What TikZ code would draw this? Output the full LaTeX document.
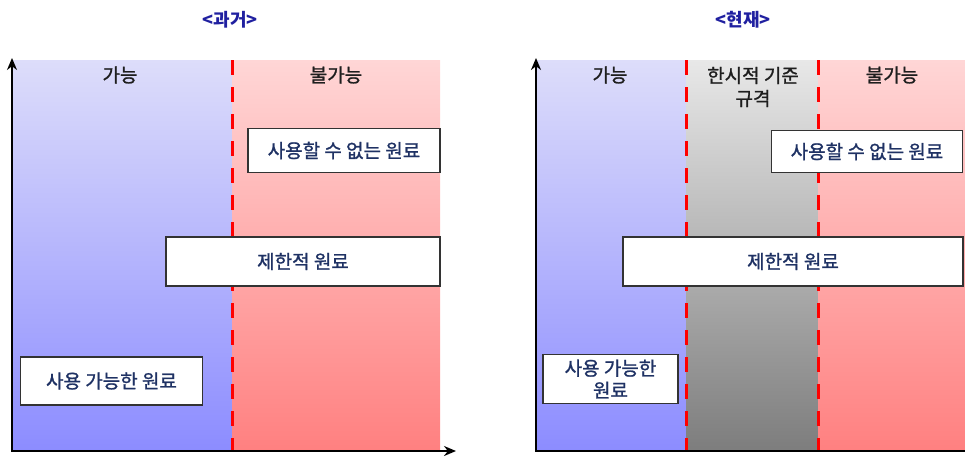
\documentclass[tikz,border=0pt]{standalone}
\usepackage{fontspec}
\setmainfont{Noto Sans CJK KR}
\newfontfamily\heavyfont[FakeBold=1.2]{Noto Sans CJK KR}
\usetikzlibrary{arrows.meta}
\definecolor{bluetop}{RGB}{221,221,250}
\definecolor{bluebot}{RGB}{140,140,255}
\definecolor{redtop}{RGB}{255,214,214}
\definecolor{redbot}{RGB}{255,128,128}
\definecolor{graytop}{RGB}{232,232,232}
\definecolor{graybot}{RGB}{125,125,125}
\definecolor{boxtext}{RGB}{31,50,100}
\definecolor{titleblue}{RGB}{32,32,160}
\definecolor{labeltext}{RGB}{30,30,30}
\definecolor{dashred}{RGB}{255,0,0}
\begin{document}
\begin{tikzpicture}[x=1pt,y=-1pt,
  itembox/.style={draw=black!80, line width=1.3pt, fill=white, inner sep=0pt, align=center,
    text=boxtext, font=\heavyfont\fontsize{19}{22}\selectfont},
  zonelabel/.style={text=labeltext, align=center, inner sep=0pt, font=\heavyfont\fontsize{19}{23}\selectfont},
  paneltitle/.style={text=titleblue, inner sep=0pt, font=\fontsize{18}{20}\selectfont\bfseries},
  divider/.style={draw=dashred, line width=3pt, dash pattern=on 15pt off 12pt},
  axis/.style={draw=black, line width=2.4pt, line cap=rect},
  axisarrow/.style={axis, -{Stealth[length=12pt,width=10pt]}}
]
\useasboundingbox (0,0) rectangle (965,456);

% ---------- left panel ----------
\shade[top color=bluetop, bottom color=bluebot] (12,60) rectangle (232,451);
\shade[top color=redtop, bottom color=redbot] (232,60) rectangle (440,451);
\coordinate (lTop) at (232,60);
\coordinate (lBot) at (232,451);
\path[divider] (lTop) -- (lBot);

\coordinate (lO) at (12,451);
\coordinate (lY) at (12,58);
\coordinate (lX) at (456,451);
\path[axisarrow] (lO) -- (lY);
\path[axisarrow] (lO) -- (lX);

\node[paneltitle] (t1) at (230,20) {<과거>};
\node[zonelabel] (l1) at (120,75) {가능};
\node[zonelabel] (l2) at (336,75) {불가능};

\node[itembox, minimum width=192pt, minimum height=44pt] (a1) at (344,150.5) {사용할 수 없는 원료};
\node[itembox, minimum width=274pt, minimum height=49pt] (a2) at (303,261.5) {제한적 원료};
\node[itembox, minimum width=182pt, minimum height=48pt] (a3) at (111.5,381) {사용 가능한 원료};

% ---------- right panel ----------
\shade[top color=bluetop, bottom color=bluebot] (536,60) rectangle (686,451);
\shade[top color=graytop, bottom color=graybot] (686,60) rectangle (818,451);
\shade[top color=redtop, bottom color=redbot] (818,60) rectangle (965,451);
\coordinate (rTop1) at (686,60);
\coordinate (rBot1) at (686,451);
\coordinate (rTop2) at (818,60);
\coordinate (rBot2) at (818,451);
\path[divider] (rTop1) -- (rBot1);
\path[divider] (rTop2) -- (rBot2);

\coordinate (rO) at (536,451);
\coordinate (rY) at (536,58);
\coordinate (rX) at (966,451);
\path[axisarrow] (rO) -- (rY);
\path[axis] (rO) -- (rX);

\node[paneltitle] (t2) at (743,20) {<현재>};
\node[zonelabel] (m1) at (610,75) {가능};
\node[zonelabel] (m2) at (753,87) {한시적 기준\\규격};
\node[zonelabel] (m3) at (892,75) {불가능};

\node[itembox, minimum width=191pt, minimum height=42pt] (b1) at (867,151.5) {사용할 수 없는 원료};
\node[itembox, minimum width=340pt, minimum height=49pt] (b2) at (793,261.5) {제한적 원료};
\node[itembox, minimum width=135pt, minimum height=49pt] (b3) at (610.5,379) {사용 가능한\\원료};
\end{tikzpicture}
\end{document}
